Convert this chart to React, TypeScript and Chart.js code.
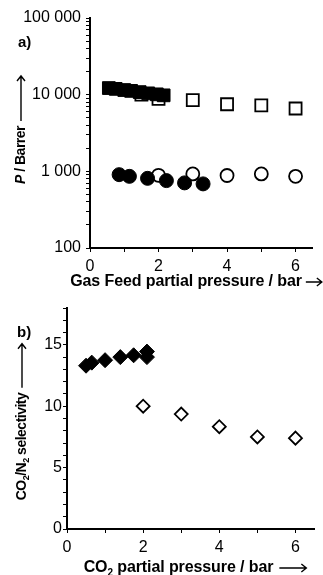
import React, { useEffect, useRef } from 'react';
import { Chart, registerables } from 'chart.js';
Chart.register(...registerables);

// ---------- data ----------
const xTickValues = [0, 1, 2, 3, 4, 5, 6];
const xMax = 6.5;

// panel a) permeability (log)
const permMajorTicks = [100, 1000, 10000, 100000];
const permTickLabels = ['100', '1 000', '10 000', '100 000'];
const co2FilledX = [0.55, 0.75, 1.0, 1.2, 1.45, 1.7, 1.95, 2.15];
const co2FilledP = [12200, 11900, 11500, 11200, 10800, 10400, 10100, 9800];
const co2OpenX = [1.5, 2, 3, 4, 5, 6];
const co2OpenP = [10000, 8800, 8500, 7500, 7250, 6600];
const n2FilledX = [0.85, 1.15, 1.68, 2.23, 2.76, 3.3];
const n2FilledP = [905, 860, 810, 757, 707, 686];
const n2OpenX = [2, 3, 4, 5, 6];
const n2OpenP = [887, 926, 883, 926, 860];

// panel b) selectivity
const selTickValues = [0, 1, 2, 3, 4, 5, 6, 7, 8, 9, 10, 11, 12, 13, 14, 15, 16, 17, 18];
const selTickLabels = ['0', '5', '10', '15'];
const selFilledX = [0.5, 0.65, 1.0, 1.4, 1.75, 2.1, 2.1];
const selFilledY = [13.3, 13.55, 13.75, 14.0, 14.15, 14.45, 14.0];
const selOpenX = [2, 3, 4, 5, 6];
const selOpenY = [10.0, 9.36, 8.33, 7.5, 7.4];

const pts = (xs: number[], ys: number[]) => xs.map((x, i) => ({ x, y: ys[i] }));

const FONT = "'Liberation Sans', Arial, sans-serif";

type Part = { t: string; italic?: boolean; sub?: boolean };

function drawArrow(ctx: CanvasRenderingContext2D, x0: number, len: number) {
  ctx.save();
  ctx.strokeStyle = '#000';
  ctx.lineWidth = 1.4;
  ctx.beginPath();
  ctx.moveTo(x0, 0);
  ctx.lineTo(x0 + len, 0);
  ctx.moveTo(x0 + len - 5, -4);
  ctx.lineTo(x0 + len, 0);
  ctx.lineTo(x0 + len - 5, 4);
  ctx.stroke();
  ctx.restore();
}

function drawTitle(
  ctx: CanvasRenderingContext2D,
  cx: number,
  cy: number,
  rotate: boolean,
  parts: Part[],
  size: number,
  spacing: number,
  gap: number,
  arrowLen: number
) {
  ctx.save();
  ctx.translate(cx, cy);
  if (rotate) ctx.rotate(-Math.PI / 2);
  ctx.fillStyle = '#000';
  ctx.textBaseline = 'middle';
  ctx.textAlign = 'left';
  (ctx as any).letterSpacing = `${spacing}px`;
  const fontFor = (p: Part) =>
    `${p.italic ? 'italic ' : ''}bold ${p.sub ? Math.round(size * 0.65) : size}px ${FONT}`;
  const widths = parts.map((p) => {
    ctx.font = fontFor(p);
    return ctx.measureText(p.t).width;
  });
  const total = widths.reduce((a, b) => a + b, 0) + gap + arrowLen;
  let x = -total / 2;
  parts.forEach((p, i) => {
    ctx.font = fontFor(p);
    ctx.fillText(p.t, x, p.sub ? size * 0.3 : 0);
    x += widths[i];
  });
  x += gap;
  drawArrow(ctx, x, arrowLen);
  ctx.restore();
}

function makeTitlePlugin(cfg: {
  panel: string;
  panelPos: [number, number];
  yParts: Part[];
  yPos: [number, number];
  yGap: number;
  yArrow: number;
  xParts: Part[];
  xPos: [number, number];
  xGap: number;
  xArrow: number;
}) {
  return {
    id: 'titles' + cfg.panel,
    afterDraw(chart: any) {
      const ctx = chart.ctx as CanvasRenderingContext2D;
      ctx.save();
      ctx.fillStyle = '#000';
      ctx.font = `bold 15px ${FONT}`;
      ctx.textBaseline = 'middle';
      ctx.textAlign = 'left';
      ctx.fillText(cfg.panel, cfg.panelPos[0], cfg.panelPos[1]);
      ctx.restore();
      drawTitle(ctx, cfg.yPos[0], cfg.yPos[1], true, cfg.yParts, 14, -0.5, cfg.yGap, cfg.yArrow);
      drawTitle(ctx, cfg.xPos[0], cfg.xPos[1], false, cfg.xParts, 16, -0.1, cfg.xGap, cfg.xArrow);
    },
  };
}

const axisCommon = (tickLength: number) => ({
  border: { display: true, color: '#000', width: 2 },
  grid: { display: true, drawOnChartArea: false, drawTicks: true, tickLength, color: '#000', lineWidth: 1 },
});

function PermChart() {
  const ref = useRef<HTMLCanvasElement>(null);
  useEffect(() => {
    const minor: number[] = [];
    for (let i = 0; i < permMajorTicks.length - 1; i++) {
      for (let m = 2; m <= 9; m++) minor.push(permMajorTicks[i] * m);
    }
    const chart = new Chart(ref.current!, {
      type: 'scatter',
      data: {
        datasets: [
          { data: pts(co2FilledX, co2FilledP), pointStyle: 'rect', pointRadius: 9, backgroundColor: '#000', borderColor: '#000', borderWidth: 1 },
          { data: pts(n2FilledX, n2FilledP), pointStyle: 'circle', pointRadius: 7, backgroundColor: '#000', borderColor: '#000', borderWidth: 1 },
          { data: pts(co2OpenX, co2OpenP), pointStyle: 'rect', pointRadius: 8.5, backgroundColor: '#fff', borderColor: '#000', borderWidth: 1.8 },
          { data: pts(n2OpenX, n2OpenP), pointStyle: 'circle', pointRadius: 6.5, backgroundColor: '#fff', borderColor: '#000', borderWidth: 1.8 },
        ],
      },
      options: {
        animation: false,
        responsive: false,
        devicePixelRatio: 1,
        events: [],
        layout: { padding: { top: 18, left: 0, right: 0, bottom: 0 } },
        plugins: { legend: { display: false }, tooltip: { enabled: false } },
        scales: {
          x: {
            type: 'linear',
            min: 0,
            max: xMax,
            ...axisCommon(4),
            afterBuildTicks: (s: any) => { s.ticks = xTickValues.map((v) => ({ value: v })); },
            afterFit: (s: any) => { s.height = 42; },
            ticks: {
              autoSkip: false,
              color: '#000',
              padding: 5,
              maxRotation: 0,
              font: { family: FONT, size: 16 },
              callback: (v: any) => (Number(v) % 2 === 0 ? String(v) : ''),
            },
          },
          y: {
            type: 'logarithmic',
            min: 100,
            max: 100000,
            ...axisCommon(4),
            afterBuildTicks: (s: any) => {
              s.ticks = [...permMajorTicks, ...minor].sort((a, b) => a - b).map((v) => ({ value: v }));
            },
            afterFit: (s: any) => { s.width = 90; },
            ticks: {
              autoSkip: false,
              color: '#000',
              padding: 5,
              font: { family: FONT, size: 16 },
              callback: (v: any) => {
                const i = permMajorTicks.indexOf(Number(v));
                return i >= 0 ? permTickLabels[i] : '';
              },
            },
          },
        },
      } as any,
      plugins: [
        makeTitlePlugin({
          panel: 'a)',
          panelPos: [18, 43],
          yParts: [{ t: 'P', italic: true }, { t: ' / Barrer' }],
          yPos: [21, 130],
          yGap: 5,
          yArrow: 45,
          xParts: [{ t: 'Gas Feed partial pressure / bar' }],
          xPos: [196, 282],
          xGap: 4,
          xArrow: 16,
        }),
      ],
    });
    return () => chart.destroy();
  }, []);
  return <canvas ref={ref} width={323} height={290} style={{ display: 'block', width: 323, height: 290 }} />;
}

function SelChart() {
  const ref = useRef<HTMLCanvasElement>(null);
  useEffect(() => {
    const chart = new Chart(ref.current!, {
      type: 'scatter',
      data: {
        datasets: [
          { data: pts(selFilledX, selFilledY), pointStyle: 'rectRot', pointRadius: 7.5, backgroundColor: '#000', borderColor: '#000', borderWidth: 1 },
          { data: pts(selOpenX, selOpenY), pointStyle: 'rectRot', pointRadius: 6.5, backgroundColor: '#fff', borderColor: '#000', borderWidth: 1.8 },
        ],
      },
      options: {
        animation: false,
        responsive: false,
        devicePixelRatio: 1,
        events: [],
        layout: { padding: { top: 18, left: 0, right: 4, bottom: 0 } },
        plugins: { legend: { display: false }, tooltip: { enabled: false } },
        scales: {
          x: {
            type: 'linear',
            min: 0,
            max: xMax,
            ...axisCommon(4),
            afterBuildTicks: (s: any) => { s.ticks = xTickValues.map((v) => ({ value: v })); },
            afterFit: (s: any) => { s.height = 46; },
            ticks: {
              autoSkip: false,
              color: '#000',
              padding: 5,
              maxRotation: 0,
              font: { family: FONT, size: 16 },
              callback: (v: any) => (Number(v) % 2 === 0 ? String(v) : ''),
            },
          },
          y: {
            type: 'linear',
            min: 0,
            max: 18,
            ...axisCommon(4),
            afterBuildTicks: (s: any) => { s.ticks = selTickValues.map((v) => ({ value: v })); },
            afterFit: (s: any) => { s.width = 67; },
            ticks: {
              autoSkip: false,
              color: '#000',
              padding: 1,
              font: { family: FONT, size: 16 },
              callback: (v: any) => (selTickLabels.includes(String(v)) ? String(v) : ''),
            },
          },
        },
      } as any,
      plugins: [
        makeTitlePlugin({
          panel: 'b)',
          panelPos: [17, 43],
          yParts: [{ t: 'CO' }, { t: '2', sub: true }, { t: '/N' }, { t: '2', sub: true }, { t: ' selectivity' }],
          yPos: [22, 132],
          yGap: 5,
          yArrow: 44,
          xParts: [{ t: 'CO' }, { t: '2', sub: true }, { t: ' partial pressure / bar' }],
          xPos: [195, 278],
          xGap: 6,
          xArrow: 27,
        }),
      ],
    });
    return () => chart.destroy();
  }, []);
  return <canvas ref={ref} width={323} height={285} style={{ display: 'block', width: 323, height: 285 }} />;
}

export default function App() {
  return (
    <div style={{ position: 'absolute', left: 0, top: 0, width: 323, height: 575, background: '#fff' }}>
      <PermChart />
      <SelChart />
    </div>
  );
}
